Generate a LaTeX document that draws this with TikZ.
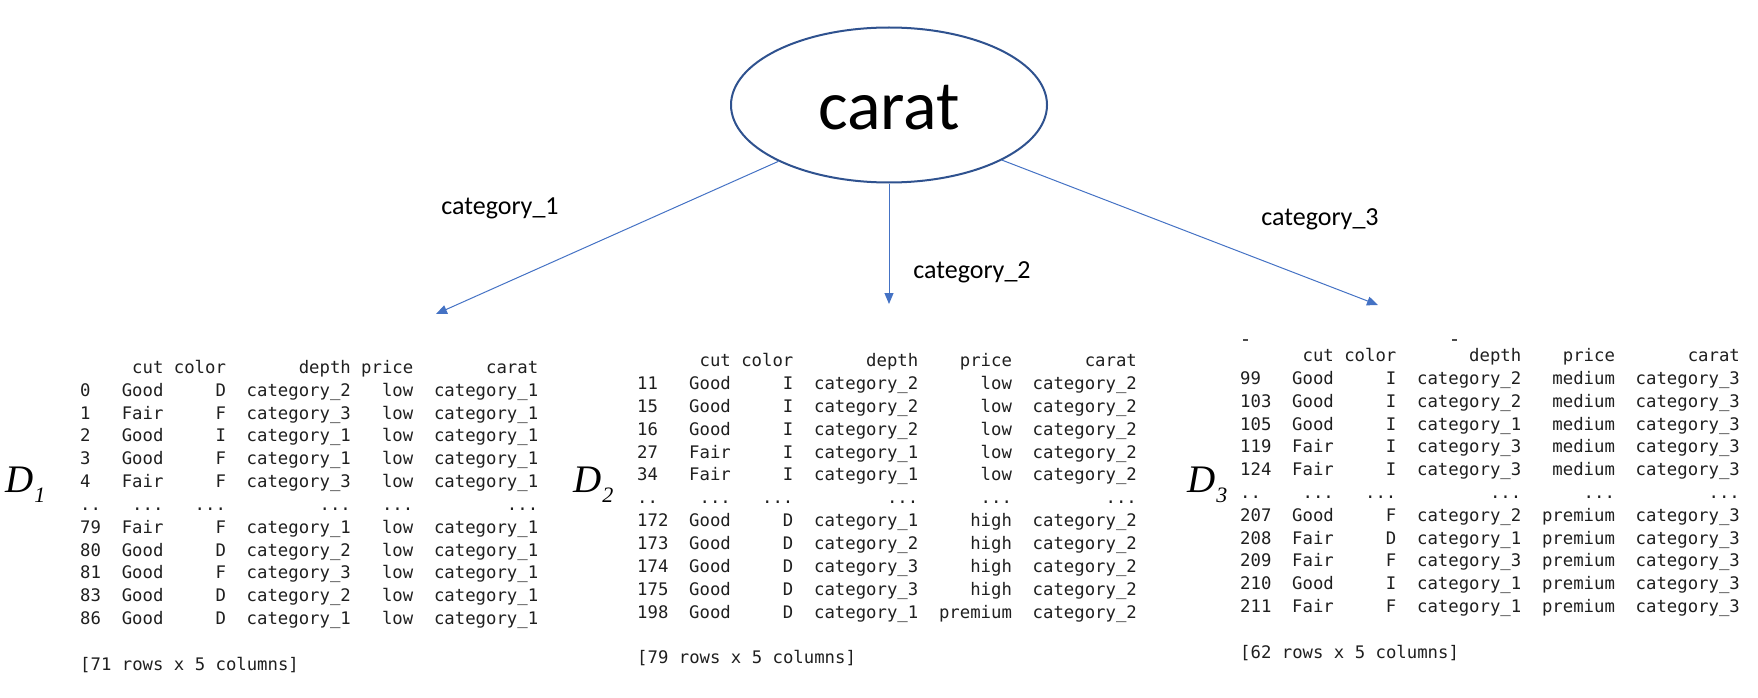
\documentclass[tikz,border=0pt]{standalone}
\usepackage{fontspec}
\setmainfont{Carlito}
\newfontfamily\dfont{Liberation Serif}
\newfontfamily\tabfont{DejaVu Sans Mono}
\usetikzlibrary{shapes.geometric,arrows.meta}

\definecolor{arrblue}{HTML}{4472C4}
\definecolor{ellblue}{HTML}{2F528F}

\newlength{\cw}
\setlength{\cw}{10.41pt}
\def\iw{2}
\def\pw{6}
\newcommand{\drow}[6]{\makebox[\iw\cw][l]{#1}\makebox[6\cw][r]{#2}\makebox[6\cw][r]{#3}\makebox[12\cw][r]{#4}\makebox[\pw\cw][r]{#5}\makebox[12\cw][r]{#6}}
\newcommand{\dname}[1]{{\itshape D}\kern1pt\raisebox{-10pt}{\fontsize{22}{22}\selectfont\itshape #1}}

\tikzset{
	split/.style={draw=ellblue, line width=2pt, ellipse, fill=white, inner sep=0pt, minimum width=316pt, minimum height=155pt, text height=50pt, text depth=0pt, font=\fontsize{70}{84}\selectfont},
	arr/.style={draw=arrblue, line width=1pt, -{Triangle[length=11pt,width=9pt]}},
	lbl/.style={anchor=base, inner sep=0pt, font=\fontsize{26}{30}\selectfont},
	dlbl/.style={anchor=base west, inner sep=0pt, font=\dfont\fontsize{39}{44}\selectfont},
	trow/.style={anchor=base west, inner sep=0pt, text=black!88, font=\tabfont\fontsize{17.3}{20}\selectfont}
}

\begin{document}
\begin{tikzpicture}[x=1pt,y=-1pt]
			\useasboundingbox (0,0) rectangle (1758,698);
			% split node and branches
			\node[split] (carat) at (889,105) {carat};
			\coordinate (e1) at (436,314);
			\coordinate (e2) at (889,304);
			\coordinate (e3) at (1378,305);
			\draw[arr] (carat.207) -- (e1);
			\draw[arr] (carat.south) -- (e2);
			\draw[arr] (carat.-26) -- (e3);
			\node[lbl] (c1) at (500,214) {category\_1};
			\node[lbl] (c2) at (972,278) {category\_2};
			\node[lbl] (c3) at (1320,225) {category\_3};
			% D1
			\node[dlbl] (d1) at (5,492) {\dname{1}};
			\node[trow] (t1r0) at (80,373.3) {\drow{}{cut}{color}{depth}{price}{carat}};
			\node[trow] (t1r1) at (80,396.15) {\drow{0}{Good}{D}{category\_2}{low}{category\_1}};
			\node[trow] (t1r2) at (80,419.0) {\drow{1}{Fair}{F}{category\_3}{low}{category\_1}};
			\node[trow] (t1r3) at (80,441.85) {\drow{2}{Good}{I}{category\_1}{low}{category\_1}};
			\node[trow] (t1r4) at (80,464.7) {\drow{3}{Good}{F}{category\_1}{low}{category\_1}};
			\node[trow] (t1r5) at (80,487.55) {\drow{4}{Fair}{F}{category\_3}{low}{category\_1}};
			\node[trow] (t1r6) at (80,510.4) {\drow{..}{...}{...}{...}{...}{...}};
			\node[trow] (t1r7) at (80,533.25) {\drow{79}{Fair}{F}{category\_1}{low}{category\_1}};
			\node[trow] (t1r8) at (80,556.1) {\drow{80}{Good}{D}{category\_2}{low}{category\_1}};
			\node[trow] (t1r9) at (80,578.95) {\drow{81}{Good}{F}{category\_3}{low}{category\_1}};
			\node[trow] (t1r10) at (80,601.8) {\drow{83}{Good}{D}{category\_2}{low}{category\_1}};
			\node[trow] (t1r11) at (80,624.65) {\drow{86}{Good}{D}{category\_1}{low}{category\_1}};
			\node[trow] (t1s) at (80,670.35) {[71 rows x 5 columns]};
			% D2
			\def\iw{3}
			\def\pw{9}
			\node[dlbl] (d2) at (573,492) {\dname{2}};
			\node[trow] (t2r0) at (637,366.7) {\drow{}{cut}{color}{depth}{price}{carat}};
			\node[trow] (t2r1) at (637,389.55) {\drow{11}{Good}{I}{category\_2}{low}{category\_2}};
			\node[trow] (t2r2) at (637,412.4) {\drow{15}{Good}{I}{category\_2}{low}{category\_2}};
			\node[trow] (t2r3) at (637,435.25) {\drow{16}{Good}{I}{category\_2}{low}{category\_2}};
			\node[trow] (t2r4) at (637,458.1) {\drow{27}{Fair}{I}{category\_1}{low}{category\_2}};
			\node[trow] (t2r5) at (637,480.95) {\drow{34}{Fair}{I}{category\_1}{low}{category\_2}};
			\node[trow] (t2r6) at (637,503.8) {\drow{..}{...}{...}{...}{...}{...}};
			\node[trow] (t2r7) at (637,526.65) {\drow{172}{Good}{D}{category\_1}{high}{category\_2}};
			\node[trow] (t2r8) at (637,549.5) {\drow{173}{Good}{D}{category\_2}{high}{category\_2}};
			\node[trow] (t2r9) at (637,572.35) {\drow{174}{Good}{D}{category\_3}{high}{category\_2}};
			\node[trow] (t2r10) at (637,595.2) {\drow{175}{Good}{D}{category\_3}{high}{category\_2}};
			\node[trow] (t2r11) at (637,618.05) {\drow{198}{Good}{D}{category\_1}{premium}{category\_2}};
			\node[trow] (t2s) at (637,663.75) {[79 rows x 5 columns]};
			% D3
			\node[dlbl] (d3) at (1187,492) {\dname{3}};
			\draw[black!70, line width=1.3pt] (1243,340) -- (1248,340);
			\draw[black!70, line width=1.3pt] (1452,340) -- (1457,340);
			\node[trow] (t3r0) at (1240,361.7) {\drow{}{cut}{color}{depth}{price}{carat}};
			\node[trow] (t3r1) at (1240,384.5) {\drow{99}{Good}{I}{category\_2}{medium}{category\_3}};
			\node[trow] (t3r2) at (1240,407.3) {\drow{103}{Good}{I}{category\_2}{medium}{category\_3}};
			\node[trow] (t3r3) at (1240,430.1) {\drow{105}{Good}{I}{category\_1}{medium}{category\_3}};
			\node[trow] (t3r4) at (1240,452.9) {\drow{119}{Fair}{I}{category\_3}{medium}{category\_3}};
			\node[trow] (t3r5) at (1240,475.7) {\drow{124}{Fair}{I}{category\_3}{medium}{category\_3}};
			\node[trow] (t3r6) at (1240,498.5) {\drow{..}{...}{...}{...}{...}{...}};
			\node[trow] (t3r7) at (1240,521.3) {\drow{207}{Good}{F}{category\_2}{premium}{category\_3}};
			\node[trow] (t3r8) at (1240,544.1) {\drow{208}{Fair}{D}{category\_1}{premium}{category\_3}};
			\node[trow] (t3r9) at (1240,566.9) {\drow{209}{Fair}{F}{category\_3}{premium}{category\_3}};
			\node[trow] (t3r10) at (1240,589.7) {\drow{210}{Good}{I}{category\_1}{premium}{category\_3}};
			\node[trow] (t3r11) at (1240,612.5) {\drow{211}{Fair}{F}{category\_1}{premium}{category\_3}};
			\node[trow] (t3s) at (1240,658.1) {[62 rows x 5 columns]};
\end{tikzpicture}
\end{document}
